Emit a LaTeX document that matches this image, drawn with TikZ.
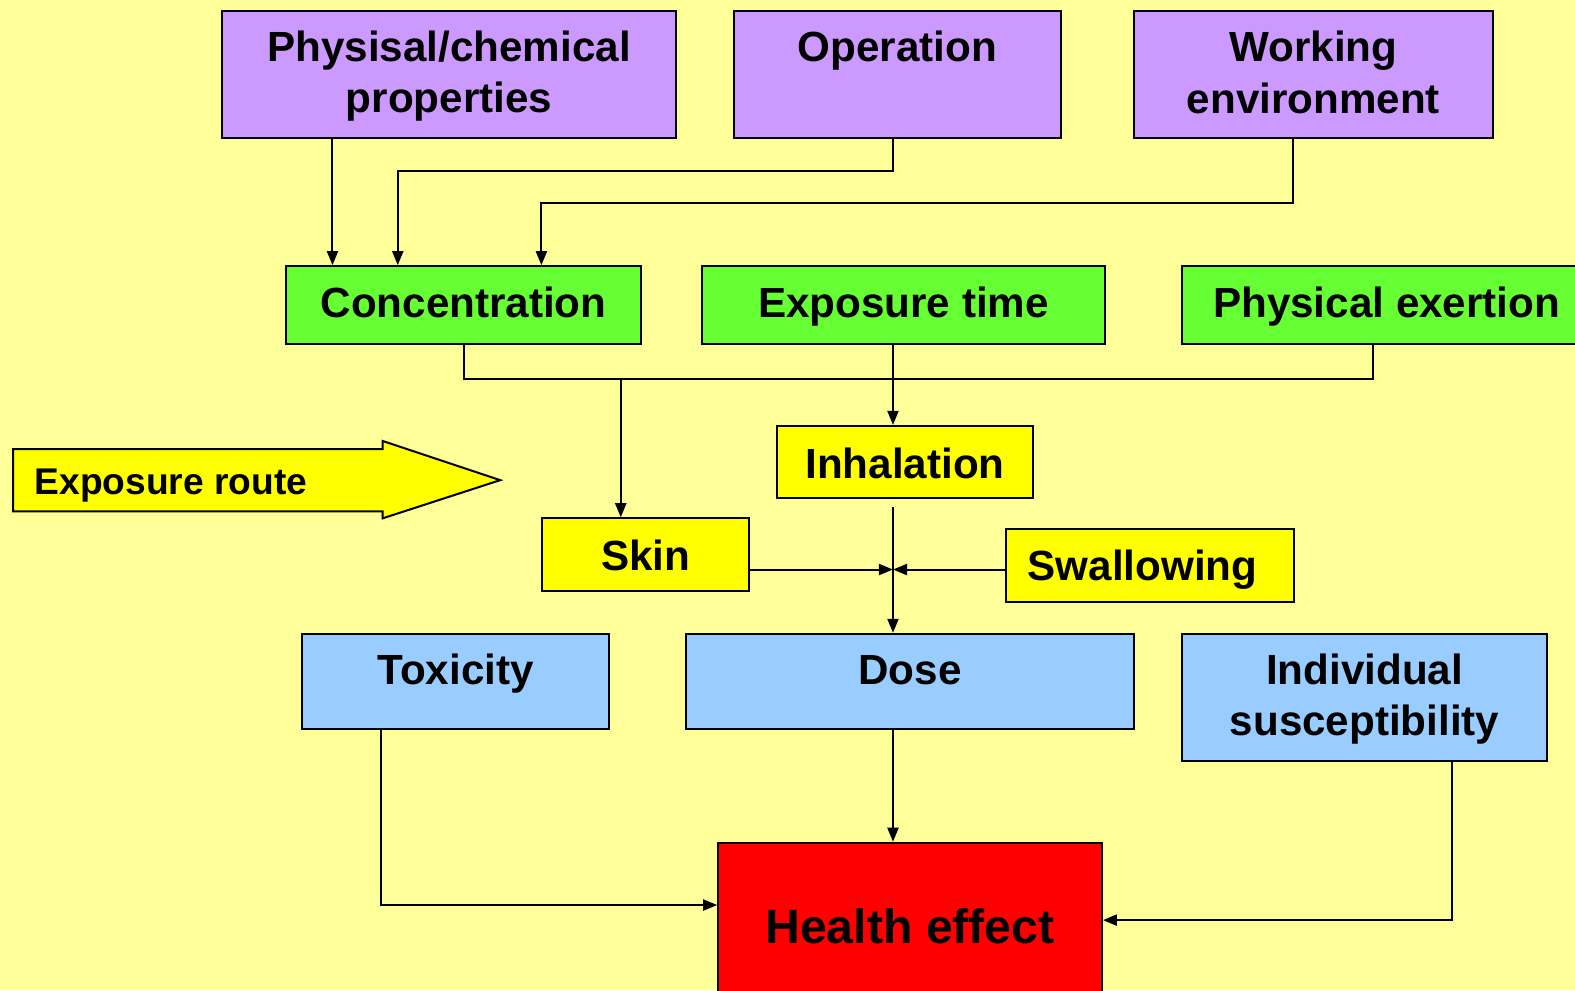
\documentclass[tikz,border=0pt]{standalone}
\usepackage{fontspec}
\setmainfont{Liberation Sans}
\usetikzlibrary{arrows.meta,calc}

\definecolor{bgpale}{HTML}{FFFF99}
\definecolor{lilac}{HTML}{CC99FF}
\definecolor{lime}{HTML}{66FF33}
\definecolor{lemon}{HTML}{FFFF00}
\definecolor{sky}{HTML}{99CCFF}
\definecolor{alert}{HTML}{FF0000}

% invisible struts that keep caps visually centred in a line
\newcommand\bxstrut{\rule[-3pt]{0pt}{22pt}}
\newcommand\bxstrutb{\rule[-4pt]{0pt}{21pt}}

\tikzset{
  box/.style={draw=black, line width=1pt, anchor=north west, align=center,
    inner sep=0pt, text=black,
    font=\bfseries\fontsize{21}{25.5}\selectfont},
  topline/.style={text height=25pt, text depth=#1},
  arr/.style={line width=1pt, -{Triangle[length=7pt,width=5.5pt]}},
  link/.style={line width=1pt},
}

\begin{document}
\begin{tikzpicture}[x=0.5pt,y=-0.5pt]
  \path[use as bounding box, clip] (0,0) rectangle (1568,986);
  \fill[bgpale] (0,0) rectangle (1568,986);

  % factors
  \node[box, fill=lilac, minimum width=226pt, minimum height=63pt] (phys) at (220,10)
    {\bxstrutb Physisal/chemical\\\bxstrutb properties};
  \node[box, fill=lilac, minimum width=162.5pt, minimum height=63pt, topline=38pt] (oper) at (730,10)
    {Operation};
  \node[box, fill=lilac, minimum width=178.5pt, minimum height=63pt] (work) at (1128,10)
    {\bxstrutb Working\\\bxstrutb environment};

  % exposure conditions
  \node[box, fill=lime, minimum width=176.5pt, minimum height=38.5pt] (conc) at (284,264) {\bxstrutb Concentration};
  \node[box, fill=lime, minimum width=200.5pt, minimum height=38.5pt] (expt) at (698,264) {\bxstrutb Exposure time};
  \node[box, fill=lime, minimum width=203.5pt, minimum height=38.5pt] (exer) at (1176,264) {\bxstrutb Physical exertion};

  % exposure routes
  \node[box, fill=lemon, minimum width=127pt, minimum height=36pt] (inh) at (773,423) {\bxstrut Inhalation};
  \node[box, fill=lemon, minimum width=103pt, minimum height=36pt] (skin) at (539,515) {\bxstrut Skin};
  \node[box, fill=lemon, minimum width=143pt, minimum height=36pt] (swal) at (1001,526) {\bxstrut Swallowing\hspace*{7.5pt}};

  \draw[line width=1pt, fill=lemon] (13,447) -- (381,447) -- (381,439) -- (498,478)
    -- (381,516) -- (381,509) -- (13,509) -- cycle;
  \node[anchor=west, inner sep=0pt, font=\bfseries\fontsize{18.5}{22}\selectfont] (route) at (34,483)
    {Exposure route};

  % outcome
  \node[box, fill=sky, minimum width=152.5pt, minimum height=47.5pt, topline=22.5pt] (tox) at (300,630) {Toxicity};
  \node[box, fill=sky, minimum width=223pt, minimum height=47.5pt, topline=22.5pt] (dose) at (682,630) {Dose};
  \node[box, fill=sky, minimum width=181.5pt, minimum height=63.5pt] (indiv) at (1176,630)
    {\bxstrutb Individual\\\bxstrutb susceptibility};
  \node[box, fill=alert, minimum width=191pt, minimum height=84pt,
    font=\bfseries\fontsize{24}{28}\selectfont] (health) at (714,838) {\bxstrut Health effect};

  % helper points
  \coordinate (busL) at ($(conc.south)+(0,34)$);
  \coordinate (skinTop) at ($(skin.north west)+(79,0)$);
  \coordinate (join) at (889,567);

  % factors -> concentration
  \draw[arr] ($(phys.south west)+(111,0)$) -- ($(conc.north west)+(47,0)$);
  \draw[arr] ($(oper.south west)+(159,0)$) -- ++(0,32) -| ($(conc.north west)+(112,0)$);
  \draw[arr] ($(work.south west)+(159,0)$) -- ++(0,64) -| ($(conc.north west)+(255,0)$);

  % conditions -> routes
  \draw[link] (conc.south) -- (busL) -| ($(exer.south west)+(191,0)$);
  \draw[arr] ($(expt.south west)+(191,0)$) -- ($(inh.north west)+(116,0)$);
  \draw[arr] (busL -| skinTop) -- (skinTop);

  % routes -> dose
  \draw[arr] ($(inh.south west)+(116,8)$) -- ($(dose.north west)+(207,0)$);
  \draw[arr] (skin.east |- join) -- (join);
  \draw[arr] (swal.west |- join) -- (join);

  % -> health effect
  \draw[arr] ($(dose.south west)+(207,0)$) -- ($(health.north west)+(175,0)$);
  \draw[arr] ($(tox.south west)+(79,0)$) |- ($(health.north west)+(0,63)$);
  \draw[arr] ($(indiv.south west)+(270,0)$) |- ($(health.north east)+(0,78)$);
\end{tikzpicture}
\end{document}
